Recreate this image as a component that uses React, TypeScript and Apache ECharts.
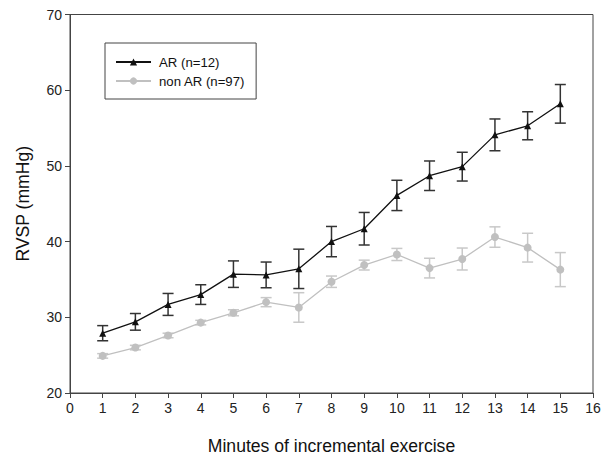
import React, { useEffect, useRef } from "react";
import * as echarts from "echarts";

const minutes = [1, 2, 3, 4, 5, 6, 7, 8, 9, 10, 11, 12, 13, 14, 15];
const arMean = [27.9, 29.4, 31.7, 33.0, 35.7, 35.6, 36.4, 40.0, 41.7, 46.1, 48.7, 49.9, 54.1, 55.3, 58.2];
const arErr = [1.0, 1.1, 1.45, 1.3, 1.75, 1.7, 2.6, 2.0, 2.15, 2.0, 1.95, 1.9, 2.1, 1.85, 2.55];
const nonArMean = [24.9, 26.0, 27.6, 29.3, 30.6, 32.0, 31.3, 34.7, 36.9, 38.3, 36.5, 37.7, 40.6, 39.2, 36.3];
const nonArErr = [0.3, 0.3, 0.3, 0.3, 0.4, 0.6, 1.95, 0.75, 0.65, 0.8, 1.3, 1.45, 1.35, 1.9, 2.25];
const xTicks = [0, 16, 1];
const yTicks = [20, 70, 10];

const FONT = "Liberation Sans";

function errorSeries(name: string, mean: number[], err: number[], color: string, z: number) {
  return {
    type: "custom",
    name: name + " err",
    z,
    silent: true,
    data: minutes.map((m, i) => [m, mean[i] - err[i], mean[i] + err[i]]),
    renderItem: (params: any, api: any) => {
      const x = api.value(0);
      const lo = api.coord([x, api.value(1)]);
      const hi = api.coord([x, api.value(2)]);
      const half = 5.5;
      const style = { stroke: color, lineWidth: 1.5 };
      return {
        type: "group",
        children: [
          { type: "line", shape: { x1: hi[0], y1: hi[1], x2: lo[0], y2: lo[1] }, style },
          { type: "line", shape: { x1: hi[0] - half, y1: hi[1], x2: hi[0] + half, y2: hi[1] }, style },
          { type: "line", shape: { x1: lo[0] - half, y1: lo[1], x2: lo[0] + half, y2: lo[1] }, style },
        ],
      };
    },
  };
}

export default function App() {
  const ref = useRef<HTMLDivElement>(null);
  useEffect(() => {
    if (!ref.current) return;
    const chart = echarts.init(ref.current, undefined, { renderer: "svg" });
    chart.setOption({
      animation: false,
      backgroundColor: "#ffffff",
      textStyle: { fontFamily: FONT },
      grid: {
        left: 70,
        right: 10,
        top: 14.5,
        bottom: 63,
        show: true,
        borderColor: "#444",
        borderWidth: 1,
        containLabel: false,
        outerBoundsMode: "none",
      },
      legend: {
        data: ["AR (n=12)", "non AR (n=97)"],
        orient: "vertical",
        left: 105,
        top: 43,
        padding: [11, 11, 10, 10],
        itemGap: 3,
        itemWidth: 35,
        itemHeight: 9,
        borderColor: "#444",
        borderWidth: 1,
        textStyle: { fontFamily: FONT, fontSize: 13.2, color: "#111", lineHeight: 16, padding: [0, 0, 0, 3] },
      },
      xAxis: {
        type: "value",
        min: xTicks[0],
        max: xTicks[1],
        interval: xTicks[2],
        name: "Minutes of incremental exercise",
        nameLocation: "middle",
        nameGap: 44,
        nameTextStyle: { fontFamily: FONT, fontSize: 17.6, color: "#111" },
        axisLine: { show: true, lineStyle: { color: "#444", width: 1 } },
        axisTick: { show: true, length: 5, inside: false, lineStyle: { color: "#444" } },
        axisLabel: { fontFamily: FONT, fontSize: 14, color: "#222", margin: 8 },
        splitLine: { show: false },
      },
      yAxis: {
        type: "value",
        min: yTicks[0],
        max: yTicks[1],
        interval: yTicks[2],
        name: "RVSP (mmHg)",
        nameLocation: "middle",
        nameGap: 38,
        nameTextStyle: { fontFamily: FONT, fontSize: 17.6, color: "#111" },
        axisLine: { show: true, lineStyle: { color: "#444", width: 1 } },
        axisTick: { show: true, length: 5, inside: false, lineStyle: { color: "#444" } },
        axisLabel: { fontFamily: FONT, fontSize: 14, color: "#222", margin: 8 },
        splitLine: { show: false },
      },
      series: [
        errorSeries("non AR (n=97)", nonArMean, nonArErr, "#c8c8c8", 1),
        {
          type: "line",
          name: "non AR (n=97)",
          z: 2,
          data: minutes.map((m, i) => [m, nonArMean[i]]),
          symbol: "circle",
          symbolSize: 8,
          lineStyle: { color: "#c0c0c0", width: 1.3 },
          itemStyle: { color: "#c0c0c0" },
        },
        errorSeries("AR (n=12)", arMean, arErr, "#333333", 3),
        {
          type: "line",
          name: "AR (n=12)",
          z: 4,
          data: minutes.map((m, i) => [m, arMean[i]]),
          symbol: "triangle",
          symbolSize: 7,
          lineStyle: { color: "#111", width: 1.3 },
          itemStyle: { color: "#111" },
        },
      ],
    });
    return () => chart.dispose();
  }, []);
  return <div ref={ref} style={{ width: 603, height: 456, position: "absolute", left: 0, top: 0 }} />;
}
